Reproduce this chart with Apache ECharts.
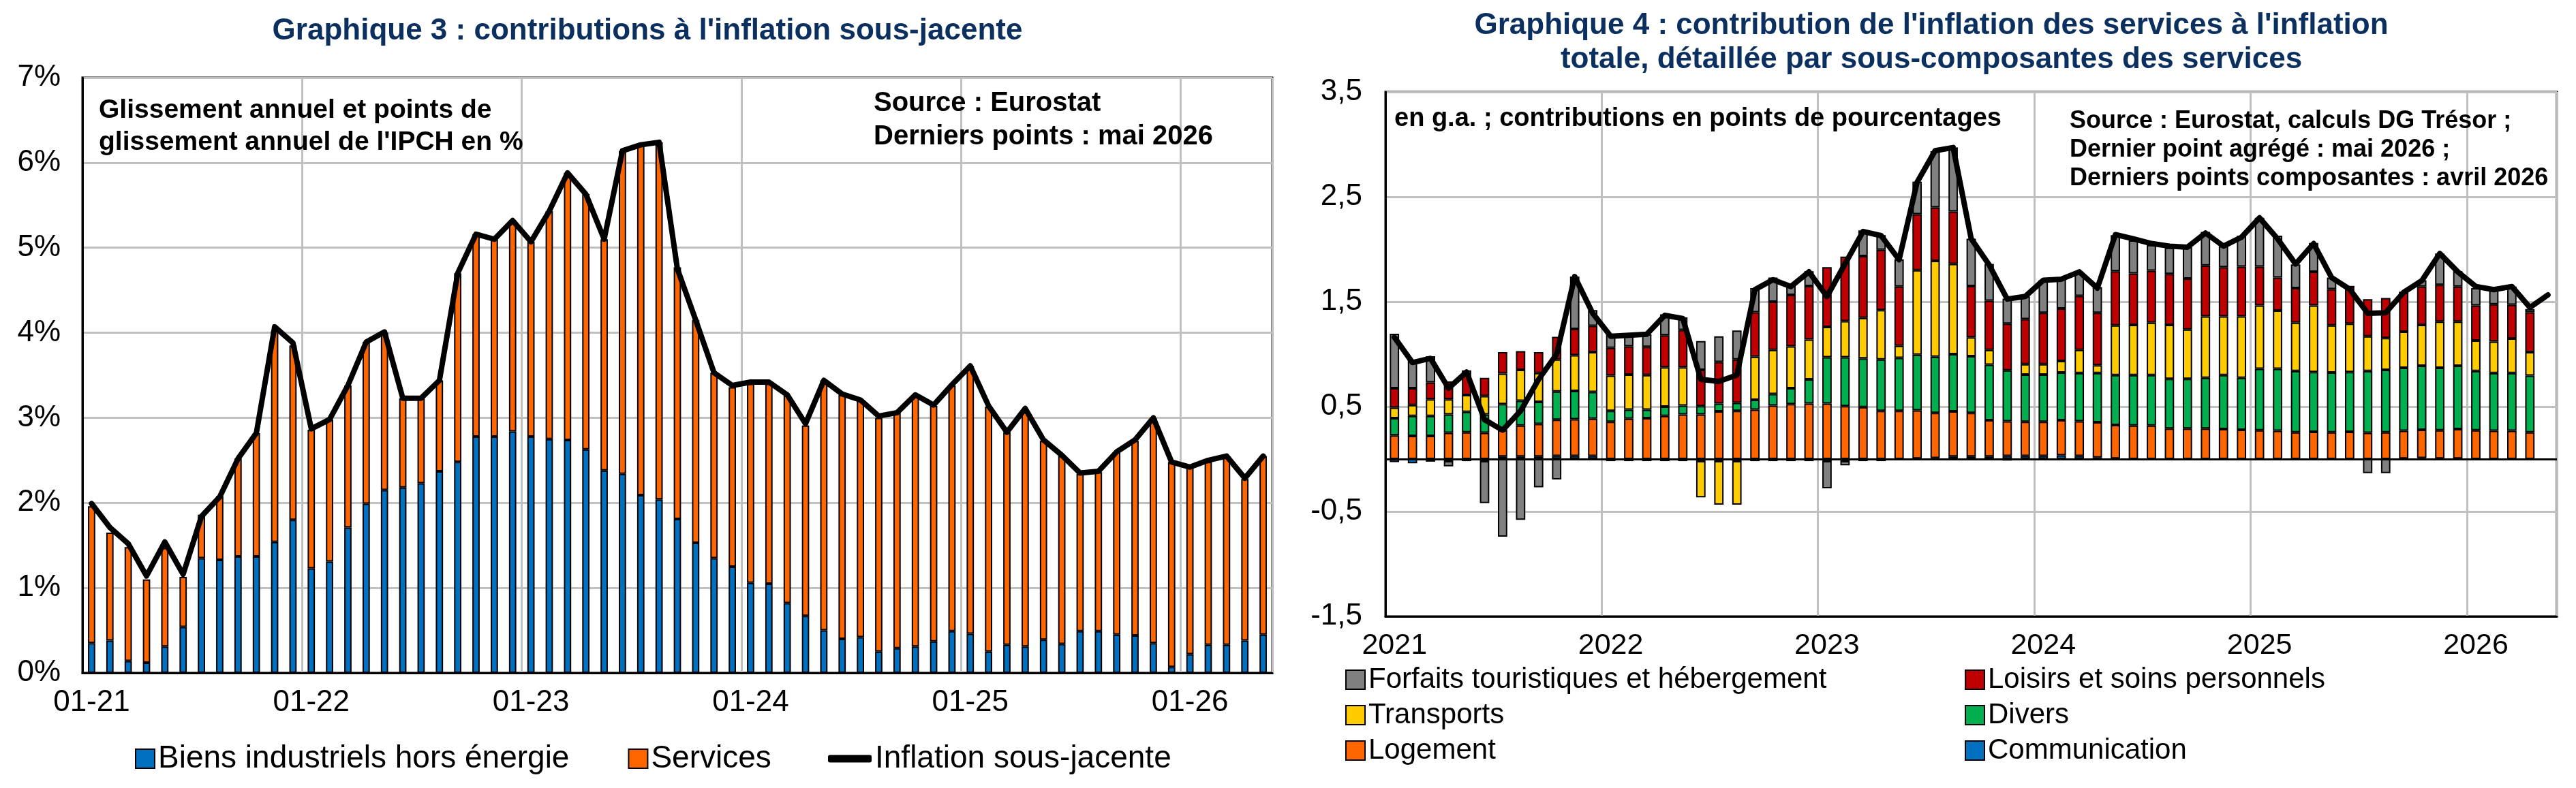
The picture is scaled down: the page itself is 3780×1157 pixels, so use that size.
<!DOCTYPE html>
<html>
<head>
<meta charset="utf-8">
<script src="https://cdn.jsdelivr.net/npm/echarts@6.0.0/dist/echarts.min.js"></script>
<style>
  html, body { margin: 0; padding: 0; background: #fff; }
  #root { width: 3780px; height: 1157px; }
</style>
</head>
<body>
<div id="root"></div>
<script>
// months, Jan 2021 -> May 2026
var months = ['01-21','02-21','03-21','04-21','05-21','06-21','07-21','08-21','09-21','10-21','11-21','12-21',
  '01-22','02-22','03-22','04-22','05-22','06-22','07-22','08-22','09-22','10-22','11-22','12-22',
  '01-23','02-23','03-23','04-23','05-23','06-23','07-23','08-23','09-23','10-23','11-23','12-23',
  '01-24','02-24','03-24','04-24','05-24','06-24','07-24','08-24','09-24','10-24','11-24','12-24',
  '01-25','02-25','03-25','04-25','05-25','06-25','07-25','08-25','09-25','10-25','11-25','12-25',
  '01-26','02-26','03-26','04-26','05-26'];

// Graphique 3
var biensIndustriels = [0.35,0.38,0.14,0.12,0.31,0.54,1.35,1.33,1.37,1.37,
  1.54,1.80,1.23,1.31,1.71,1.99,2.15,2.18,2.23,2.37,
  2.48,2.78,2.78,2.84,2.78,2.75,2.74,2.63,2.38,2.34,
  2.09,2.04,1.81,1.53,1.35,1.25,1.06,1.05,0.82,0.67,
  0.50,0.40,0.42,0.25,0.29,0.31,0.37,0.49,0.46,0.25,
  0.33,0.31,0.39,0.34,0.49,0.49,0.45,0.44,0.35,0.07,
  0.22,0.33,0.33,0.38,0.45];
var services = [1.61,1.27,1.34,0.98,1.16,0.59,0.51,0.75,1.15,1.45,
  2.48,2.05,1.63,1.67,1.67,1.90,1.85,1.05,1.00,1.07,
  2.22,2.38,2.32,2.48,2.29,2.68,3.14,3.00,2.72,3.80,
  4.11,4.20,2.96,2.62,2.18,2.11,2.34,2.35,2.44,2.24,
  2.94,2.87,2.78,2.75,2.77,2.95,2.77,2.89,3.15,2.88,
  2.50,2.79,2.34,2.21,1.85,1.87,2.15,2.29,2.64,2.41,
  2.20,2.15,2.22,1.90,2.10];
var inflationSousJacente = [1.99,1.71,1.52,1.14,1.54,1.16,1.84,2.07,2.52,2.82,
  4.07,3.88,2.87,2.98,3.38,3.89,4.01,3.23,3.23,3.44,
  4.70,5.16,5.10,5.32,5.07,5.43,5.88,5.63,5.10,6.14,
  6.21,6.24,4.75,4.15,3.53,3.38,3.42,3.42,3.27,2.93,
  3.44,3.28,3.21,3.02,3.06,3.27,3.15,3.39,3.61,3.14,
  2.83,3.11,2.74,2.56,2.35,2.37,2.60,2.74,3.00,2.48,
  2.42,2.50,2.55,2.29,2.55];

// Graphique 4 (components stop in April 2026)
var communication = [-0.03,-0.04,-0.025,-0.02,-0.02,-0.02,0.025,0.025,0.025,0.03,
  0.03,0.03,-0.02,-0.02,-0.02,-0.02,-0.02,-0.02,-0.02,-0.02,
  -0.02,-0.02,-0.02,-0.02,-0.02,-0.02,-0.02,-0.02,0,0.005,
  0.01,0.025,0.025,0.025,0.03,0.03,0.03,0.035,0.03,0.015,
  0.005,0,0,0,-0.01,-0.01,-0.01,-0.01,-0.01,-0.01,
  -0.005,-0.005,-0.005,-0.005,0,0,0.005,0.01,0.005,0.005,
  0,0,0,0];
var logement = [0.225,0.22,0.22,0.25,0.255,0.25,0.25,0.295,0.31,0.345,
  0.35,0.355,0.355,0.385,0.39,0.41,0.425,0.425,0.455,0.46,
  0.47,0.51,0.525,0.53,0.53,0.505,0.495,0.46,0.46,0.46,
  0.43,0.43,0.415,0.345,0.33,0.325,0.325,0.335,0.33,0.335,
  0.32,0.32,0.32,0.29,0.29,0.29,0.285,0.28,0.275,0.27,
  0.255,0.26,0.255,0.26,0.25,0.255,0.265,0.27,0.27,0.28,
  0.275,0.27,0.27,0.255];
var divers = [0.165,0.19,0.19,0.175,0.195,0.175,0.25,0.235,0.21,0.27,
  0.27,0.255,0.105,0.085,0.08,0.09,0.085,0.08,0.075,0.075,
  0.095,0.11,0.15,0.23,0.44,0.465,0.465,0.49,0.505,0.53,
  0.535,0.545,0.54,0.53,0.485,0.45,0.45,0.455,0.46,0.47,
  0.475,0.48,0.48,0.475,0.475,0.485,0.515,0.495,0.585,0.59,
  0.585,0.57,0.57,0.57,0.59,0.595,0.60,0.61,0.595,0.605,
  0.565,0.55,0.55,0.54];
var transports = [0.10,0.105,0.16,0.145,0.16,0.175,0.29,0.295,0.275,0.305,
  0.34,0.38,0.335,0.335,0.33,0.375,0.365,-0.345,-0.415,-0.415,
  0.41,0.42,0.40,0.38,0.29,0.345,0.385,0.47,0.115,0.805,
  0.915,0.86,0.18,0.14,-0.015,0.10,0.10,0.11,0.22,0.075,
  0.475,0.48,0.50,0.515,0.47,0.585,0.56,0.585,0.605,0.555,
  0.46,0.635,0.45,0.46,0.33,0.305,0.345,0.39,0.44,0.42,
  0.29,0.30,0.33,0.225];
var loisirs = [0.185,0.16,0.16,0.17,0.19,0.175,0.205,0.18,0.20,0.215,
  0.25,0.25,0.265,0.27,0.27,0.305,0.355,0.345,0.395,0.415,
  0.425,0.46,0.49,0.51,0.57,0.615,0.59,0.575,0.565,0.535,
  0.51,0.50,0.49,0.47,0.445,0.43,0.49,0.50,0.515,0.50,
  0.515,0.49,0.495,0.485,0.485,0.485,0.47,0.475,0.37,0.315,
  0.33,0.32,0.345,0.355,0.355,0.38,0.375,0.365,0.35,0.335,
  0.335,0.355,0.32,0.38];
var forfaits = [0.52,0.27,0.25,-0.05,0.045,-0.40,-0.74,-0.58,-0.27,-0.195,
  0.50,0.15,0.135,0.115,0.12,0.20,0.12,0.275,0.245,0.275,
  0.23,0.23,0.085,0.14,-0.26,-0.04,0.245,0.14,0.26,0.31,
  0.535,0.61,0.45,0.35,0.24,0.215,0.31,0.285,0.225,0.245,
  0.345,0.315,0.245,0.25,0.30,0.32,0.20,0.295,0.465,0.40,
  0.225,0.275,0.11,0,-0.135,-0.135,0,0.06,0.30,0.145,
  0.165,0.135,0.175,0.03];
var servicesTotal = [1.16,0.92,0.96,0.675,0.83,0.375,0.275,0.46,0.76,1.0,
  1.74,1.39,1.17,1.18,1.19,1.37,1.34,0.76,0.74,0.80,
  1.615,1.71,1.645,1.785,1.55,1.86,2.17,2.13,1.90,2.64,
  2.94,2.97,2.10,1.85,1.525,1.55,1.705,1.715,1.785,1.63,
  2.14,2.10,2.055,2.03,2.02,2.155,2.03,2.115,2.30,2.10,
  1.86,2.055,1.73,1.62,1.39,1.395,1.59,1.70,1.96,1.785,
  1.645,1.615,1.645,1.445,1.565];

var FONT = "'Liberation Sans', Arial, sans-serif";
var TITLE_COLOR = '#0b2f5e';
var GRID_COLOR = '#c0c0c0';

var myChart = echarts.init(document.getElementById('root'), null, { renderer: 'canvas' });

// helper for the stacked bar series
function barSeries(name, data, color, axisIdx, width) {
  return {
    name: name, type: 'bar', stack: 'tot' + axisIdx,
    xAxisIndex: axisIdx, yAxisIndex: axisIdx,
    barWidth: width, data: data,
    itemStyle: { color: color, borderColor: '#000', borderWidth: 2 }
  };
}

// free text placed by its anchor point (x, y = vertical middle)
function label(text, x, y, opts) {
  return {
    type: 'text', x: x, y: y, z: 10,
    style: Object.assign({ text: text, font: 'bold 39px ' + FONT, fill: '#000',
      align: 'left', verticalAlign: 'middle' }, opts || {})
  };
}

var xCommon = {
  type: 'category', data: months, boundaryGap: true,
  axisTick: { show: false },
  axisLine: { lineStyle: { color: '#000', width: 3 } },
  splitLine: { show: true, interval: 11, lineStyle: { color: GRID_COLOR, width: 3 } }
};

var option = {
  animation: false,
  backgroundColor: '#fff',
  textStyle: { fontFamily: FONT },
  grid: [
    { left: 121, top: 114, width: 1746, height: 874, show: true, borderColor: '#000', borderWidth: 3, containLabel: false },
    { left: 2033, top: 135, width: 1719, height: 770, show: true, borderColor: '#000', borderWidth: 3, containLabel: false }
  ],
  xAxis: [
    Object.assign({}, xCommon, { gridIndex: 0,
      axisLabel: { interval: 11, fontSize: 44, color: '#000', margin: 22, fontFamily: FONT } }),
    Object.assign({}, xCommon, { gridIndex: 1,
      axisLine: { onZero: false, lineStyle: { color: '#000', width: 3 } },
      axisLabel: { interval: 11, fontSize: 43, color: '#000', margin: 22, fontFamily: FONT,
        formatter: function (v) { return '20' + v.slice(3); } } })
  ],
  yAxis: [
    { type: 'value', gridIndex: 0, min: 0, max: 7, interval: 1,
      axisLine: { show: true, lineStyle: { color: '#000', width: 3 } },
      axisLabel: { fontSize: 44, color: '#000', margin: 32, fontFamily: FONT, formatter: '{value}%' },
      splitLine: { lineStyle: { color: GRID_COLOR, width: 3 } } },
    { type: 'value', gridIndex: 1, min: -1.5, max: 3.5, interval: 1,
      axisLine: { show: true, lineStyle: { color: '#000', width: 3 } },
      axisLabel: { fontSize: 44, color: '#000', margin: 34, fontFamily: FONT,
        formatter: function (v) { return String(v).replace('.', ','); } },
      splitLine: { lineStyle: { color: GRID_COLOR, width: 3 } } }
  ],
  legend: [
    { data: ['Biens industriels hors énergie', 'Services'], left: 193, top: 1086,
      icon: 'rect', itemWidth: 28, itemHeight: 28, itemGap: 86,
      textStyle: { fontSize: 46, color: '#000', fontFamily: FONT } },
    { data: [{ name: 'Inflation sous-jacente', icon: 'roundRect' }], left: 1210, top: 1086,
      itemWidth: 64, itemHeight: 11,
      textStyle: { fontSize: 46, color: '#000', fontFamily: FONT } },
    { data: ['Forfaits touristiques et hébergement', 'Transports', 'Logement'], orient: 'vertical',
      left: 1969, top: 972, icon: 'rect', itemWidth: 28, itemHeight: 28, itemGap: 10,
      textStyle: { fontSize: 42, color: '#000', fontFamily: FONT } },
    { data: ['Loisirs et soins personnels', 'Divers', 'Communication'], orient: 'vertical',
      left: 2878, top: 972, icon: 'rect', itemWidth: 28, itemHeight: 28, itemGap: 10,
      textStyle: { fontSize: 42, color: '#000', fontFamily: FONT } }
  ],
  graphic: [
    label("Graphique 3 : contributions à l'inflation sous-jacente", 950, 46,
      { font: 'bold 44px ' + FONT, fill: TITLE_COLOR, align: 'center' }),
    label("Graphique 4 : contribution de l'inflation des services à l'inflation", 2834, 38,
      { font: 'bold 44px ' + FONT, fill: TITLE_COLOR, align: 'center' }),
    label("totale, détaillée par sous-composantes des services", 2834, 88,
      { font: 'bold 44px ' + FONT, fill: TITLE_COLOR, align: 'center' }),
    label("Glissement annuel et points de", 145, 162),
    label("glissement annuel de l'IPCH en %", 145, 209),
    label("Source : Eurostat", 1282, 152, { font: 'bold 40px ' + FONT }),
    label("Derniers points : mai 2026", 1282, 201, { font: 'bold 40px ' + FONT }),
    label("en g.a. ; contributions en points de pourcentages", 2046, 175, { font: 'bold 38px ' + FONT }),
    label("Source : Eurostat, calculs DG Trésor ;", 3037, 178, { font: 'bold 36px ' + FONT }),
    label("Dernier point agrégé : mai 2026 ;", 3037, 220, { font: 'bold 36px ' + FONT }),
    label("Derniers points composantes : avril 2026", 3037, 262, { font: 'bold 36px ' + FONT })
  ],
  series: [
    barSeries('Biens industriels hors énergie', biensIndustriels, '#0070c0', 0, '40%'),
    barSeries('Services', services, '#ff6600', 0, '40%'),
    { name: 'Inflation sous-jacente', type: 'line', xAxisIndex: 0, yAxisIndex: 0,
      data: inflationSousJacente, symbol: 'none', z: 5,
      lineStyle: { color: '#000', width: 8, join: 'round', cap: 'round' },
      itemStyle: { color: '#000' } },

    // right chart, stacked in Excel order
    Object.assign(barSeries('Communication', communication, '#0070c0', 1, '52%'), {
      markLine: { silent: true, symbol: ['none', 'none'], label: { show: false },
        lineStyle: { color: '#000', width: 3, type: 'solid' }, data: [{ yAxis: 0 }] }
    }),
    barSeries('Logement', logement, '#ff6600', 1, '52%'),
    barSeries('Divers', divers, '#00b050', 1, '52%'),
    barSeries('Transports', transports, '#ffcc00', 1, '52%'),
    barSeries('Loisirs et soins personnels', loisirs, '#c00000', 1, '52%'),
    barSeries('Forfaits touristiques et hébergement', forfaits, '#808080', 1, '52%'),
    { name: 'Services total', type: 'line', xAxisIndex: 1, yAxisIndex: 1,
      data: servicesTotal, symbol: 'none', z: 5,
      lineStyle: { color: '#000', width: 8, join: 'round', cap: 'round' } }
  ]
};

if (option && typeof option === 'object') {
  myChart.setOption(option);
}
window.addEventListener('resize', myChart.resize);
</script>
</body>
</html>
